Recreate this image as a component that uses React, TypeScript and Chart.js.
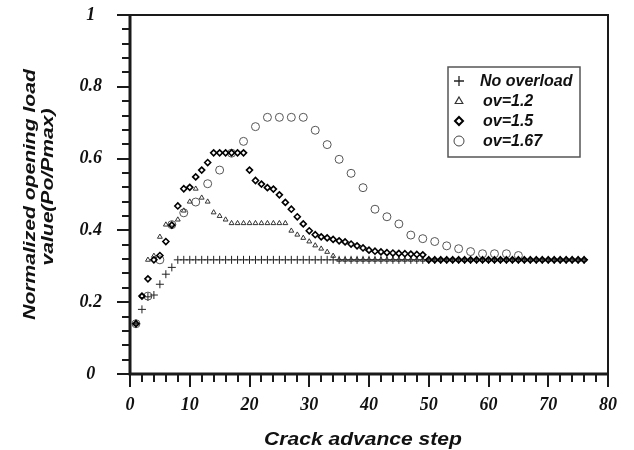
import React, { useEffect, useRef } from "react";
import { Chart, registerables } from "chart.js";

Chart.register(...registerables);

// ---- data ----
const steps: number[] = [
  1, 2, 3, 4, 5, 6, 7, 8, 9, 10, 11, 12, 13, 14, 15, 16, 17, 18, 19, 20,
  21, 22, 23, 24, 25, 26, 27, 28, 29, 30, 31, 32, 33, 34, 35, 36, 37, 38, 39, 40,
  41, 42, 43, 44, 45, 46, 47, 48, 49, 50, 51, 52, 53, 54, 55, 56, 57, 58, 59, 60,
  61, 62, 63, 64, 65, 66, 67, 68, 69, 70, 71, 72, 73, 74, 75, 76,
];

const noOverload: number[] = [
  0.14, 0.18, 0.215, 0.22, 0.25, 0.278, 0.297, 0.318, 0.318, 0.318,
  0.318, 0.318, 0.318, 0.318, 0.318, 0.318, 0.318, 0.318, 0.318, 0.318,
  0.318, 0.318, 0.318, 0.318, 0.318, 0.318, 0.318, 0.318, 0.318, 0.318,
  0.318, 0.318, 0.318, 0.318, 0.318, 0.318, 0.318, 0.318, 0.318, 0.318,
  0.318, 0.318, 0.318, 0.318, 0.318, 0.318, 0.318, 0.318, 0.318, 0.318,
  0.318, 0.318, 0.318, 0.318, 0.318, 0.318, 0.318, 0.318, 0.318, 0.318,
  0.318, 0.318, 0.318, 0.318, 0.318, 0.318, 0.318, 0.318, 0.318, 0.318,
  0.318, 0.318, 0.318, 0.318, 0.318, 0.318,
];

const ov12: number[] = [
  0.14, 0.217, 0.318, 0.329, 0.382, 0.416, 0.416, 0.43, 0.455, 0.48,
  0.516, 0.491, 0.48, 0.45, 0.44, 0.43, 0.42, 0.42, 0.42, 0.42,
  0.42, 0.42, 0.42, 0.42, 0.42, 0.42, 0.399, 0.388, 0.379, 0.369,
  0.358, 0.349, 0.34, 0.329, 0.318, 0.318, 0.318, 0.318, 0.318, 0.318,
  0.318, 0.318, 0.318, 0.318, 0.318, 0.318, 0.318, 0.318, 0.318, 0.318,
  0.318, 0.318, 0.318, 0.318, 0.318, 0.318, 0.318, 0.318, 0.318, 0.318,
  0.318, 0.318, 0.318, 0.318, 0.318, 0.318, 0.318, 0.318, 0.318, 0.318,
  0.318, 0.318, 0.318, 0.318, 0.318, 0.318,
];

const ov15: number[] = [
  0.14, 0.217, 0.265, 0.318, 0.33, 0.369, 0.415, 0.468, 0.516, 0.52,
  0.549, 0.568, 0.589, 0.616, 0.616, 0.616, 0.616, 0.616, 0.616, 0.568,
  0.539, 0.529, 0.519, 0.515, 0.499, 0.478, 0.459, 0.438, 0.418, 0.399,
  0.388, 0.382, 0.379, 0.375, 0.371, 0.368, 0.362, 0.357, 0.351, 0.345,
  0.342, 0.34, 0.338, 0.337, 0.336, 0.335, 0.334, 0.333, 0.332, 0.318,
  0.318, 0.318, 0.318, 0.318, 0.318, 0.318, 0.318, 0.318, 0.318, 0.318,
  0.318, 0.318, 0.318, 0.318, 0.318, 0.318, 0.318, 0.318, 0.318, 0.318,
  0.318, 0.318, 0.318, 0.318, 0.318, 0.318,
];

const ov167Steps: number[] = [
  1, 3, 5, 7, 9, 11, 13, 15, 17, 19, 21, 23, 25, 27, 29, 31, 33,
  35, 37, 39, 41, 43, 45, 47, 49, 51, 53, 55, 57, 59, 61, 63, 65,
];
const ov167: number[] = [
  0.14, 0.217, 0.318, 0.416, 0.449, 0.479, 0.53, 0.568, 0.615, 0.648, 0.689,
  0.715, 0.715, 0.715, 0.715, 0.679, 0.639, 0.598, 0.559, 0.519, 0.459, 0.438,
  0.418, 0.387, 0.377, 0.369, 0.357, 0.349, 0.341, 0.335, 0.335, 0.335, 0.33,
];

const seriesLabels: string[] = ["No overload", "ov=1.2", "ov=1.5", "ov=1.67"];
const xTickLabels: number[] = [0, 10, 20, 30, 40, 50, 60, 70, 80];
const yTickLabels: number[] = [0, 0.2, 0.4, 0.6, 0.8, 1];
const xTitle = "Crack advance step";
const yTitleLines: string[] = ["Normalized opening load", "value(Po/Pmax)"];

const SANS = "'Liberation Sans', Arial, sans-serif";
const SERIF = "'Liberation Serif', 'Times New Roman', serif";

function pts(xs: number[], ys: number[]) {
  return ys.map((y, i) => ({ x: xs[i], y }));
}

function drawMarker(ctx: CanvasRenderingContext2D, kind: string, x: number, y: number) {
  ctx.save();
  ctx.beginPath();
  if (kind === "plus") {
    ctx.strokeStyle = "#222";
    ctx.lineWidth = 1.3;
    ctx.moveTo(x - 5, y);
    ctx.lineTo(x + 5, y);
    ctx.moveTo(x, y - 5);
    ctx.lineTo(x, y + 5);
    ctx.stroke();
  } else if (kind === "tri") {
    ctx.strokeStyle = "#333";
    ctx.lineWidth = 1.2;
    ctx.moveTo(x, y - 4);
    ctx.lineTo(x + 3.8, y + 2.5);
    ctx.lineTo(x - 3.8, y + 2.5);
    ctx.closePath();
    ctx.stroke();
  } else if (kind === "dia") {
    ctx.strokeStyle = "#000";
    ctx.lineWidth = 2;
    ctx.moveTo(x, y - 4);
    ctx.lineTo(x + 4, y);
    ctx.lineTo(x, y + 4);
    ctx.lineTo(x - 4, y);
    ctx.closePath();
    ctx.stroke();
  } else {
    ctx.strokeStyle = "#444";
    ctx.lineWidth = 1;
    ctx.arc(x, y, 5, 0, Math.PI * 2);
    ctx.stroke();
  }
  ctx.restore();
}

const framePlugin = {
  id: "framePlugin",
  afterDraw(chart: any) {
    const ctx: CanvasRenderingContext2D = chart.ctx;
    const { left, right, top, bottom } = chart.chartArea;
    const xs = chart.scales.x;
    const ys = chart.scales.y;
    ctx.save();
    ctx.strokeStyle = "#1a1a1a";
    // frame
    ctx.lineWidth = 2;
    ctx.beginPath();
    ctx.moveTo(left, top);
    ctx.lineTo(right, top);
    ctx.lineTo(right, bottom);
    ctx.stroke();
    ctx.lineWidth = 3;
    ctx.beginPath();
    ctx.moveTo(left, top - 1);
    ctx.lineTo(left, bottom);
    ctx.lineTo(right + 1, bottom);
    ctx.stroke();
    // ticks
    ctx.lineWidth = 2;
    ctx.beginPath();
    for (let i = 0; i <= 25; i++) {
      const py = Math.round(ys.getPixelForValue(i * 0.04));
      const len = i % 5 === 0 ? 13 : 8;
      ctx.moveTo(left, py);
      ctx.lineTo(left - len, py);
    }
    for (let i = 0; i <= 40; i++) {
      const px = Math.round(xs.getPixelForValue(i * 2));
      const len = i % 5 === 0 ? 13 : 8;
      ctx.moveTo(px, bottom);
      ctx.lineTo(px, bottom + len);
    }
    ctx.stroke();

    // axis titles
    ctx.fillStyle = "#111";
    ctx.textAlign = "center";
    ctx.textBaseline = "middle";
    ctx.save();
    ctx.translate((left + right) / 2 - 6, 440);
    ctx.scale(1.17, 1);
    ctx.font = `bold italic 18px ${SANS}`;
    ctx.fillText(xTitle, 0, 0);
    ctx.restore();
    ctx.save();
    ctx.translate(30, (top + bottom) / 2);
    ctx.rotate(-Math.PI / 2);
    ctx.scale(1.24, 1);
    ctx.font = `bold italic 17px ${SANS}`;
    ctx.fillText(yTitleLines[0], 0, 0);
    ctx.fillText(yTitleLines[1], 6, 18);
    ctx.restore();

    // legend
    const bx = 448, by = 67, bw = 132, bh = 90;
    ctx.strokeStyle = "#555";
    ctx.lineWidth = 1.5;
    ctx.strokeRect(bx, by, bw, bh);
    const kinds = ["plus", "tri", "dia", "circ"];
    const rows = [81, 101, 121, 141];
    ctx.font = `bold italic 16px ${SANS}`;
    ctx.textAlign = "left";
    ctx.fillStyle = "#111";
    for (let i = 0; i < 4; i++) {
      drawMarker(ctx, kinds[i], 459, rows[i]);
      ctx.fillText(seriesLabels[i], i === 0 ? 480 : 483, rows[i] + 1);
    }
    ctx.restore();
  },
};

export default function App() {
  const ref = useRef<HTMLCanvasElement | null>(null);
  useEffect(() => {
    document.body.style.margin = "0";
    const canvas = ref.current;
    if (!canvas) return;
    const chart = new Chart(canvas, {
      type: "scatter",
      data: {
        datasets: [
          {
            label: seriesLabels[0],
            data: pts(steps, noOverload),
            pointStyle: "cross",
            pointRadius: 4,
            borderColor: "#222",
            backgroundColor: "#222",
            borderWidth: 1,
            order: 1,
          },
          {
            label: seriesLabels[1],
            data: pts(steps, ov12),
            pointStyle: "triangle",
            pointRadius: 2.8,
            borderColor: "#333",
            backgroundColor: "rgba(255,255,255,0)",
            borderWidth: 1,
            order: 2,
          },
          {
            label: seriesLabels[2],
            data: pts(steps, ov15),
            pointStyle: "rectRot",
            pointRadius: 3,
            borderColor: "#000",
            backgroundColor: "rgba(255,255,255,0)",
            borderWidth: 1.6,
            order: 0,
          },
          {
            label: seriesLabels[3],
            data: pts(ov167Steps, ov167),
            pointStyle: "circle",
            pointRadius: 4,
            borderColor: "#555",
            backgroundColor: "rgba(255,255,255,0)",
            borderWidth: 1,
            order: 3,
          },
        ],
      },
      options: {
        responsive: false,
        animation: false,
        devicePixelRatio: 1,
        layout: { padding: { top: 15, right: 26, left: 0, bottom: 0 } },
        plugins: { legend: { display: false }, tooltip: { enabled: false } },
        scales: {
          x: {
            type: "linear",
            min: 0,
            max: 80,
            afterFit: (s: any) => {
              s.height = 76;
              s.paddingLeft = 0;
              s.paddingRight = 0;
            },
            afterBuildTicks: (s: any) => {
              s.ticks = xTickLabels.map((v) => ({ value: v }));
            },
            grid: { display: false, drawTicks: false },
            border: { display: false },
            ticks: {
              padding: 21,
              color: "#111",
              font: { family: SERIF, size: 18, weight: "bold", style: "italic" },
              maxRotation: 0,
            },
          },
          y: {
            type: "linear",
            min: 0,
            max: 1,
            afterFit: (s: any) => {
              s.width = 130;
              s.paddingTop = 0;
              s.paddingBottom = 0;
            },
            afterBuildTicks: (s: any) => {
              s.ticks = yTickLabels.map((v) => ({ value: v }));
            },
            grid: { display: false, drawTicks: false },
            border: { display: false },
            ticks: {
              padding: 28,
              crossAlign: "center",
              color: "#111",
              font: { family: SERIF, size: 18, weight: "bold", style: "italic" },
              callback: (v: any) => String(v),
            },
          },
        },
      },
      plugins: [framePlugin],
    } as any);
    return () => chart.destroy();
  }, []);
  return (
    <div style={{ width: 634, height: 450 }}>
      <canvas ref={ref} width={634} height={450} />
    </div>
  );
}
